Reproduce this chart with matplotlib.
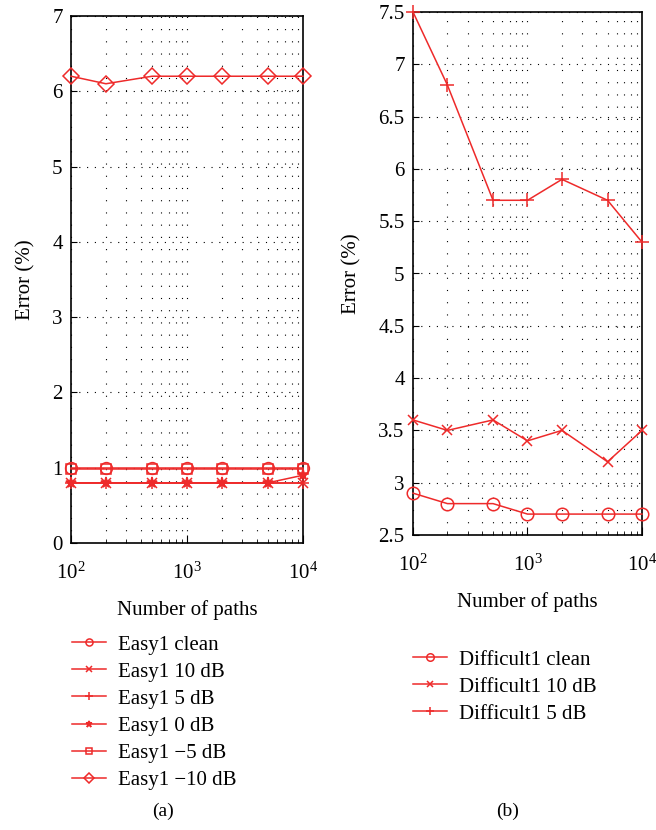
import matplotlib
matplotlib.use("Agg")
import matplotlib.pyplot as plt
from matplotlib.ticker import LogLocator, FuncFormatter, LogFormatterMathtext, NullFormatter, MultipleLocator

plt.rcParams['font.family'] = ['Liberation Serif', 'DejaVu Serif']
plt.rcParams['mathtext.fontset'] = 'stix'

paths = [100, 200, 500, 1000, 2000, 5000, 10000]

easy_labels = ["Easy1 clean", "Easy1 10 dB", "Easy1 5 dB", "Easy1 0 dB", "Easy1 \u22125 dB", "Easy1 \u221210 dB"]
easy_clean = [1.0, 1.0, 1.0, 1.0, 1.0, 1.0, 1.0]
easy_10db = [0.8, 0.8, 0.8, 0.8, 0.8, 0.8, 0.8]
easy_5db = [0.8, 0.8, 0.8, 0.8, 0.8, 0.8, 0.8]
easy_0db = [0.8, 0.8, 0.8, 0.8, 0.8, 0.8, 0.9]
easy_m5db = [0.98, 0.98, 0.98, 0.98, 0.98, 0.98, 0.98]
easy_m10db = [6.2, 6.1, 6.2, 6.2, 6.2, 6.2, 6.2]

diff_labels = ["Difficult1 clean", "Difficult1 10 dB", "Difficult1 5 dB"]
diff_clean = [2.9, 2.8, 2.8, 2.7, 2.7, 2.7, 2.7]
diff_10db = [3.6, 3.5, 3.6, 3.4, 3.5, 3.2, 3.5]
diff_5db = [7.5, 6.8, 5.7, 5.7, 5.9, 5.7, 5.3]

RED = '#ee2a2a'
FS = 15

fig = plt.figure(figsize=(6.56, 8.30), dpi=100)
axA = fig.add_axes([71/656, 1-543/830, 232/656, 527/830])
axB = fig.add_axes([413/656, 1-535/830, 229/656, 523/830])

def style(ax):
    ax.set_xscale('log')
    ax.set_xlim(100, 10000)
    ax.xaxis.set_major_locator(LogLocator(base=10, numticks=10))
    ax.xaxis.set_minor_locator(LogLocator(base=10, subs=range(2, 10), numticks=10))
    ax.xaxis.set_major_formatter(LogFormatterMathtext())
    ax.xaxis.set_minor_formatter(NullFormatter())
    ax.grid(True, which='both', axis='x', color='black', linewidth=0.8, linestyle=(0, (1, 10)))
    ax.grid(True, which='major', axis='y', color='black', linewidth=0.8, linestyle=(0, (1, 6)))
    ax.tick_params(axis='both', which='both', direction='in', top=False, right=False, labelsize=FS)
    ax.tick_params(axis='x', which='major', length=6, pad=14)
    ax.tick_params(axis='x', which='minor', length=3)
    ax.tick_params(axis='y', which='major', length=4, pad=6)
    for s in ax.spines.values():
        s.set_linewidth(1.2)
    ax.set_xlabel("Number of paths", fontsize=FS, labelpad=12)
    ax.set_ylabel("Error (%)", fontsize=FS, labelpad=12)
    ax.yaxis.set_major_formatter(FuncFormatter(lambda v, p: "%g" % v))

style(axA)
axA.set_ylim(0, 7)
axA.yaxis.set_major_locator(MultipleLocator(1))

easy_series = [easy_clean, easy_10db, easy_5db, easy_0db, easy_m5db, easy_m10db]
easy_markers = [('o', 8.5), ('x', 6.5), ('+', 9), ('*', 8), ('s', 7.5), ('D', 8.5)]
hA = []
for vals, lab, (m, ms) in zip(easy_series, easy_labels, easy_markers):
    h, = axA.plot(paths, vals, color=RED, linewidth=1.1, marker=m, markersize=ms,
                  markerfacecolor='none' if m in ('o', 's', 'D') else RED,
                  markeredgecolor=RED, markeredgewidth=1.1, label=lab, clip_on=False, zorder=3)
    hA.append(h)

style(axB)
axB.set_ylim(2.5, 7.5)
axB.yaxis.set_major_locator(MultipleLocator(0.5))
diff_series = [diff_clean, diff_10db, diff_5db]
diff_markers = [('o', 9), ('x', 7), ('+', 10)]
hB = []
for vals, lab, (m, ms) in zip(diff_series, diff_labels, diff_markers):
    h, = axB.plot(paths, vals, color=RED, linewidth=1.1, marker=m, markersize=ms,
                  markerfacecolor='none', markeredgecolor=RED, markeredgewidth=1.1,
                  label=lab, clip_on=False, zorder=3)
    hB.append(h)

legA = fig.legend(handles=hA, loc='upper left', bbox_to_anchor=(72/656, 1-635/830),
                  frameon=False, fontsize=FS, markerscale=0.6, handlelength=1.65,
                  handletextpad=0.58, labelspacing=0.36, borderpad=0, borderaxespad=0)
legB = fig.legend(handles=hB, loc='upper left', bbox_to_anchor=(413/656, 1-650/830),
                  frameon=False, fontsize=FS, markerscale=0.6, handlelength=1.65,
                  handletextpad=0.58, labelspacing=0.36, borderpad=0, borderaxespad=0)

fig.text(163/656, 1-811/830, "(a)", ha='center', va='center', fontsize=14)
fig.text(508/656, 1-811/830, "(b)", ha='center', va='center', fontsize=14)

fig.savefig("out.png", dpi=100)
